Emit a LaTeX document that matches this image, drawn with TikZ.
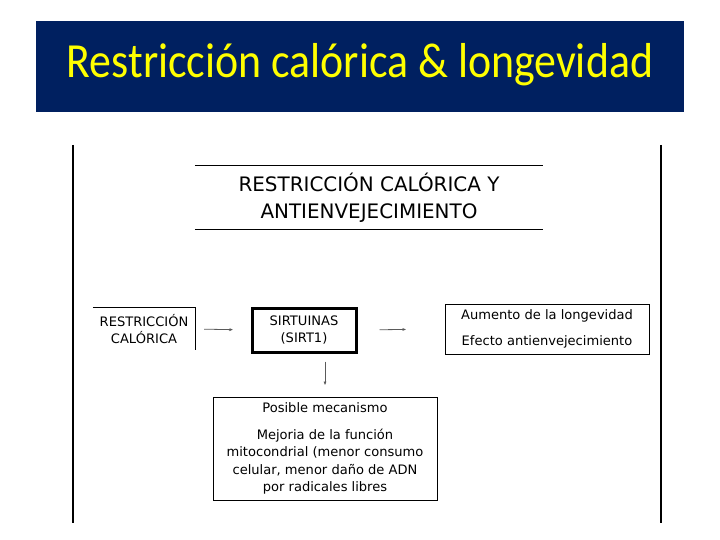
\documentclass[tikz,border=0pt]{standalone}
\usepackage{fontspec}
\setmainfont{DejaVu Sans}
\newfontfamily\titlefont{Carlito}
\usetikzlibrary{arrows.meta}
\definecolor{navy}{RGB}{0,32,96}
\definecolor{titleyellow}{RGB}{255,255,0}
\definecolor{arrowgray}{RGB}{90,90,90}
\tikzset{
  diag/.style={font=\fontsize{13.1}{17.5}\selectfont, align=center, inner sep=0pt},
  thinbox/.style={diag, draw=black, line width=0.9bp},
  thickbox/.style={diag, draw=black, line width=3bp},
  conn/.style={draw=arrowgray, line width=0.8bp, -{Latex[length=4bp,width=3bp]}},
  frameline/.style={line width=2.6bp, black},
  rule/.style={line width=0.9bp, black}
}
\begin{document}
\begin{tikzpicture}[x=1bp,y=-1bp]
\useasboundingbox (0,0) rectangle (720,540);
\fill[white] (0,0) rectangle (720,540);
% banner
\node[fill=navy, minimum width=648bp, minimum height=91bp, inner sep=0pt, anchor=north west] (banner) at (36,21) {};
\node[text=titleyellow, font=\titlefont\fontsize{44}{50}\selectfont, inner sep=0pt] (title) at (360,65) {\scalebox{1}[1.12]{Restricción calórica \& longevidad}};
% frame lines
\draw[frameline] (73,145) -- (73,523);
\draw[frameline] (661,145) -- (661,523);
% header
\node[diag, font=\fontsize{20}{27}\selectfont, minimum width=348bp, minimum height=63bp] (head) at (369,197.5) {RESTRICCIÓN CALÓRICA Y\\ANTIENVEJECIMIENTO};
\draw[rule] (head.north west) -- (head.north east);
\draw[rule] (head.south west) -- (head.south east);
% left box
\node[diag, minimum width=102bp, minimum height=42bp] (rc) at (144,329) {RESTRICCIÓN\\CALÓRICA};
\draw[rule] (rc.north west) -- (rc.north east) -- (rc.south east);
% sirtuinas
\node[thickbox, minimum width=104bp, minimum height=44bp] (sirt) at (304,330) {SIRTUINAS\\(SIRT1)};
% longevity
\node[thinbox, minimum width=204bp, minimum height=50bp, font=\fontsize{13.1}{26}\selectfont] (lon) at (547,329) {Aumento de la longevidad\\Efecto antienvejecimiento};
% mechanism
\node[thinbox, minimum width=224bp, minimum height=103bp] (mec) at (325,448.5) {Posible mecanismo\\[9bp]Mejoria de la función\\mitocondrial (menor consumo\\celular, menor daño de ADN\\por radicales libres};
% connectors
\draw[conn, shorten <=9bp, shorten >=17bp] (rc.east) -- (sirt.west);
\draw[conn, shorten <=22bp, shorten >=38bp] (sirt.east) -- (lon.west);
\draw[conn, shorten <=8bp, shorten >=11bp] (sirt.south -| mec.north) -- (mec.north);
\end{tikzpicture}
\end{document}
